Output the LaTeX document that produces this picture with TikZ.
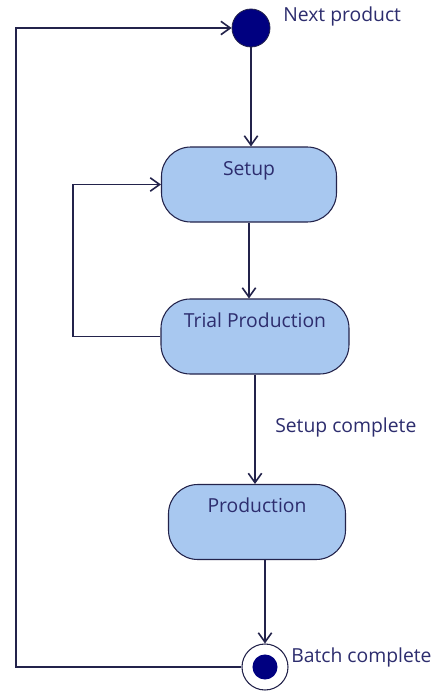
\documentclass[tikz,border=0pt]{standalone}
\usepackage{fontspec}
\setmainfont{Open Sans}
\usepackage{tikz}
\usetikzlibrary{shapes,arrows.meta,positioning,calc}

\definecolor{boxfill}{RGB}{168,200,240}
\definecolor{navydot}{RGB}{0,0,128}
\definecolor{inkline}{RGB}{35,35,75}
\definecolor{inktext}{RGB}{45,45,110}

\begin{document}
\begin{tikzpicture}[x=0.75pt,y=-0.75pt,
    state/.style={draw=inkline, fill=boxfill, line width=0.8pt, rounded corners=22pt,
        inner sep=0pt, minimum height=56.25pt, text height=21pt, text depth=35.25pt,
        font=\fontsize{14.5}{16}\selectfont, text=inktext},
    initial/.style={circle, fill=navydot, draw=inkline, line width=0.6pt, minimum size=28.5pt, inner sep=0pt},
    final/.style={circle, draw=inkline, line width=0.8pt, fill=white, minimum size=34.5pt, inner sep=0pt,
        path picture={\fill[navydot] (path picture bounding box.center) circle (9.4pt);}},
    flow/.style={draw=inkline, line width=1.2pt, -{Straight Barb[length=7pt,width=10pt]}},
    lbl/.style={font=\fontsize{14.5}{16}\selectfont, text=inktext, inner sep=0pt}]

    \useasboundingbox[fill=white] (0,0) rectangle (441,692);

    % States
    \node[initial] (start) at (251,28) {};
    \node[state, minimum width=131.25pt] (setup) at (249,184.5) {Setup};
    \node[state, minimum width=141pt] (trial) at (255,336.5) {Trial Production};
    \node[state, minimum width=132.75pt] (prod) at (257,522) {Production};
    \node[final] (end) at (265,667) {};

    % Labels
    \node[lbl, anchor=base west] (nextlbl) at (283,22) {Next product};
    \node[lbl, anchor=base west] (donelbl) at (275,432) {Setup complete};
    \node[lbl, anchor=base west] (batchlbl) at (291,662) {Batch complete};

    % Transitions
    \draw[flow] (start) -- (start |- setup.north);
    \draw[flow] (setup.south) -- (setup.south |- trial.north);
    \draw[flow] (trial.south) -- (trial.south |- prod.north);
    \draw[flow] (prod.south -| end.north) -- (end.north);

    % Loops back
    \coordinate (outerrail) at (16,0);
    \coordinate (innerrail) at (73,0);
    \draw[flow] (end.west) -- (end.west -| outerrail) |- (start.west);
    \draw[flow] (trial.west) -- (trial.west -| innerrail) |- (setup.west);
\end{tikzpicture}
\end{document}
